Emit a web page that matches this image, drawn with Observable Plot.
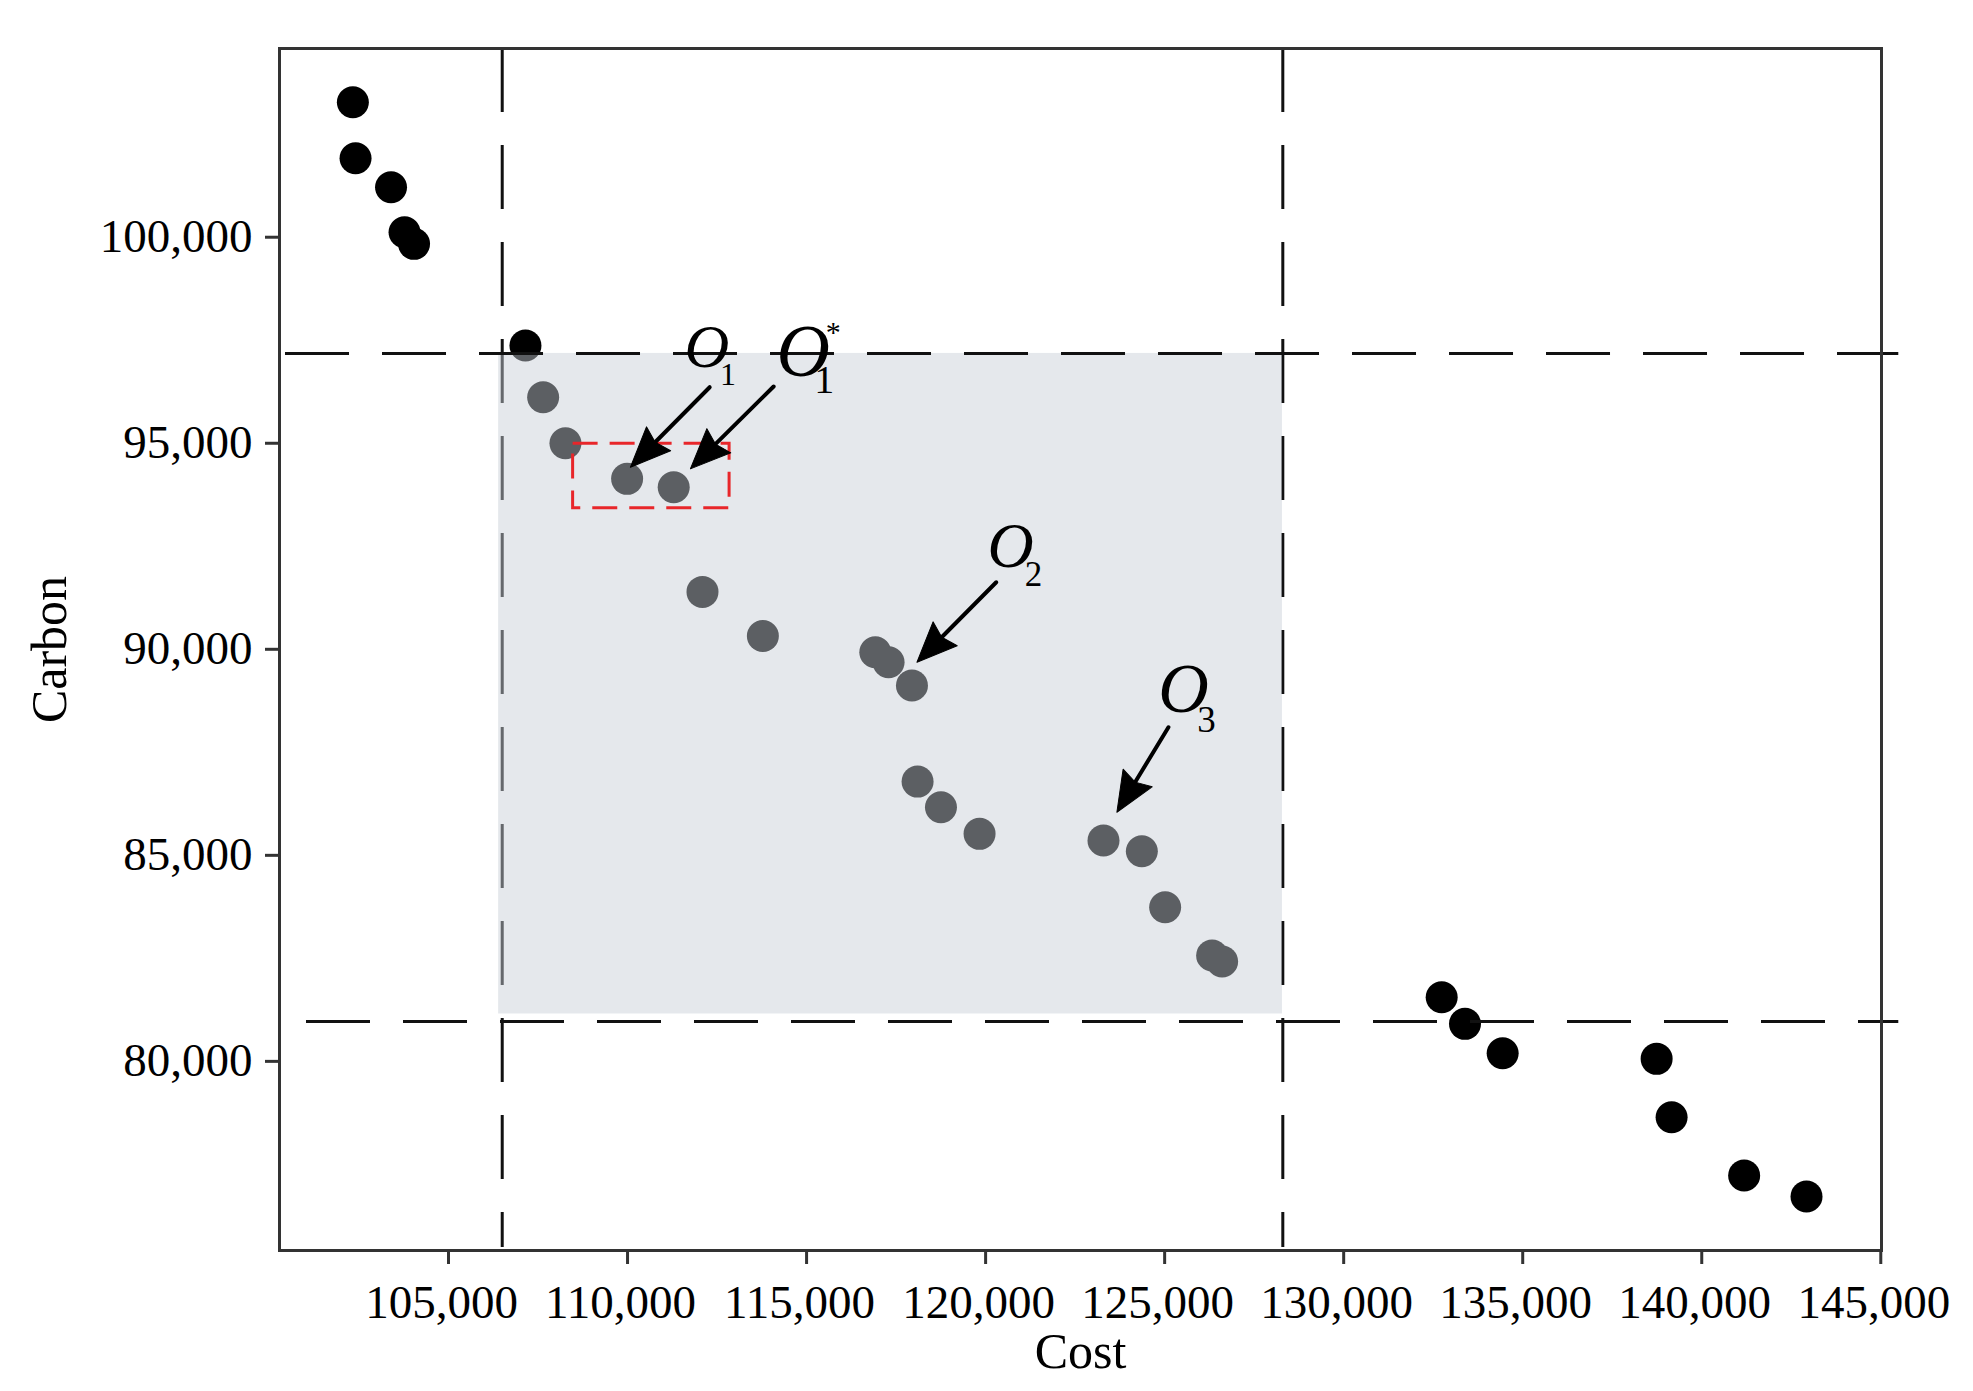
<!DOCTYPE html>
<html>
<head>
<meta charset="utf-8">
<script src="https://cdn.jsdelivr.net/npm/d3@7"></script>
<script src="https://cdn.jsdelivr.net/npm/@observablehq/plot@0.6"></script>
<style>
  html, body { margin: 0; padding: 0; background: #fff; }
  #chart svg { display: block; }
</style>
</head>
<body>
<div id="chart"></div>
<script>
// ---- data ----
const cost = [102329, 102404, 103395, 103772, 104037, 107149, 107643, 108266, 109988, 111289,
              112093, 113779, 116919, 117290, 117943, 118100, 118753, 119831, 123292, 124363,
              125014, 126326, 126605, 132737, 133388, 134440, 138740, 139158, 141184, 142926];
const carbon = [103276, 101917, 101213, 100121, 99840, 97372, 96117, 95001, 94137, 93933,
                91392, 90324, 89929, 89686, 89120, 86790, 86167, 85521, 85359, 85099,
                83740, 82568, 82422, 81556, 80910, 80197, 80061, 78644, 77229, 76719];

// threshold (dashed) lines
const thresholdCost = [106500, 128300];
const thresholdCarbon = [97180, 80970];

// shaded feasible region
const shadeCost = [106400, 128290];
const shadeCarbon = [81150, 97180];

// red highlight box around O1 and O1*
const boxCost = [108480, 112850];
const boxCarbon = [93420, 94990];

// annotation arrows (from label to point)
const arrowFromCost = [112294, 114080, 120297, 125106];
const arrowFromCarbon = [96360, 96377, 91627, 88108];
const arrowToCost = [110080, 111755, 118083, 123666];
const arrowToCarbon = [94418, 94379, 89686, 86046];

// annotation labels
const labelCost = [111937, 114714, 120500, 125413];
const labelCarbon = [97323, 97214, 92493, 89016];
const labelMain = ["O", "O", "O", "O"];
const labelSub = ["1", "1", "2", "3"];
const labelSup = ["", "*", "", ""];

// axis ticks
const xTicks = [105000, 110000, 115000, 120000, 125000, 130000, 135000, 140000, 145000];
const yTicks = [80000, 85000, 90000, 95000, 100000];
const xTitle = "Cost";
const yTitle = "Carbon";

// ---- chart ----
const serif = "'Liberation Serif', 'Times New Roman', serif";
const fmt = d3.format(",");
const common = {
  width: 1973,
  height: 1391,
  marginLeft: 279,
  marginRight: 92,
  marginTop: 48,
  marginBottom: 141,
  x: {domain: [100280, 145020], axis: null},
  y: {domain: [75410, 104580], axis: null},
  style: {fontFamily: serif, fontSize: "47px", color: "#000", background: "#fff", overflow: "visible"}
};

const points = cost.map((c, i) => ({cost: c, carbon: carbon[i]}));

// first pass to obtain the scales, so arrowhead directions follow the screen geometry
const base = Plot.plot({...common, marks: [Plot.frame()]});
const sx = base.scale("x"), sy = base.scale("y");
const arrows = arrowFromCost.map((_, i) => {
  const dx = sx.apply(arrowToCost[i]) - sx.apply(arrowFromCost[i]);
  const dy = sy.apply(arrowToCarbon[i]) - sy.apply(arrowFromCarbon[i]);
  return {
    x1: arrowFromCost[i], y1: arrowFromCarbon[i],
    x2: arrowToCost[i], y2: arrowToCarbon[i],
    angle: Math.atan2(dx, -dy) * 180 / Math.PI
  };
});

const barbed = {
  draw(context, l, r) {
    context.moveTo(0, -l);
    context.lineTo(r, 0);
    context.lineTo(0, -l * 0.12);
    context.lineTo(-r, 0);
    context.closePath();
  }
};

// typography of the annotation labels
const labelSizes = [62, 74, 64, 70];
const labelShift = [10, 7, 7, 4];
const subSizes = [32, 40, 35, 37];
const subOffsets = [[31, 27], [28, 28], [30, 28], [27, 30]];
const labelMarks = [];
labelCost.forEach((c, i) => {
  const d = [{x: c, y: labelCarbon[i]}];
  labelMarks.push(Plot.text(d, {x: "x", y: "y", text: () => labelMain[i], fontStyle: "italic",
    fontSize: labelSizes[i], fontFamily: serif, fill: "#000", dx: labelShift[i]}));
  labelMarks.push(Plot.text(d, {x: "x", y: "y", text: () => labelSub[i], fontSize: subSizes[i],
    fontFamily: serif, fill: "#000", dx: subOffsets[i][0], dy: subOffsets[i][1]}));
  if (labelSup[i]) {
    labelMarks.push(Plot.text(d, {x: "x", y: "y", text: () => labelSup[i], fontSize: 30,
      fontFamily: serif, fill: "#000", dx: 37, dy: -20}));
  }
});

const chart = Plot.plot({
  ...common,
  marks: [
    // all solutions
    Plot.dot(points, {x: "cost", y: "carbon", r: 16, fill: "#000", stroke: "none"}),
    // vertical thresholds (under the shading)
    Plot.ruleX(thresholdCost, {x: d => d, y1: 104580, y2: 75480, stroke: "#111",
      strokeWidth: 3, strokeDasharray: "64,33"}),
    // translucent shading of the feasible region
    Plot.rect([0], {x1: () => shadeCost[0], x2: () => shadeCost[1],
      y1: () => shadeCarbon[0], y2: () => shadeCarbon[1],
      fill: "rgb(199,206,213)", fillOpacity: 0.463}),
    // horizontal thresholds
    Plot.ruleY(thresholdCarbon, {y: d => d, x1: (d, i) => (i === 0 ? 100448 : 101034), x2: 145503,
      stroke: "#111", strokeWidth: 3, strokeDasharray: "64,33"}),
    Plot.frame({stroke: "#333", strokeWidth: 3}),
    // axes
    Plot.axisX({ticks: xTicks, tickSize: 14, tickFormat: () => "", stroke: "#333", strokeWidth: 3, label: null}),
    Plot.axisX({ticks: xTicks, tickSize: 0, tickPadding: 34, tickFormat: fmt, dx: -7, fontSize: 47,
      fontFamily: serif, label: null}),
    Plot.axisY({ticks: yTicks, tickSize: 14, tickFormat: () => "", stroke: "#333", strokeWidth: 3, label: null}),
    Plot.axisY({ticks: yTicks, tickSize: 0, tickPadding: 27, tickFormat: fmt, fontSize: 47,
      fontFamily: serif, label: null}),
    // red highlight box
    Plot.rect([0], {x1: () => boxCost[0], x2: () => boxCost[1], y1: () => boxCarbon[0], y2: () => boxCarbon[1],
      fill: "none", stroke: "#e8262a", strokeWidth: 3, strokeDasharray: "25,12"}),
    // arrows
    Plot.arrow(arrows, {x1: "x1", y1: "y1", x2: "x2", y2: "y2", headLength: 0, insetEnd: 26,
      stroke: "#000", strokeWidth: 4}),
    Plot.vector(arrows, {x: "x2", y: "y2", rotate: "angle", length: 40, r: 17, shape: barbed,
      anchor: "end", fill: "#000", stroke: "#000", strokeWidth: 1}),
    ...labelMarks,
    // axis titles
    Plot.text([xTitle], {text: d => d, frameAnchor: "bottom", lineAnchor: "middle", textAnchor: "middle",
      dy: 101, fontSize: 50, fontFamily: serif, fill: "#000"}),
    Plot.text([yTitle], {text: d => d, frameAnchor: "left", lineAnchor: "middle", textAnchor: "middle",
      dx: -230, rotate: -90, fontSize: 50, fontFamily: serif, fill: "#000"})
  ]
});

document.getElementById("chart").appendChild(chart);
</script>
</body>
</html>
